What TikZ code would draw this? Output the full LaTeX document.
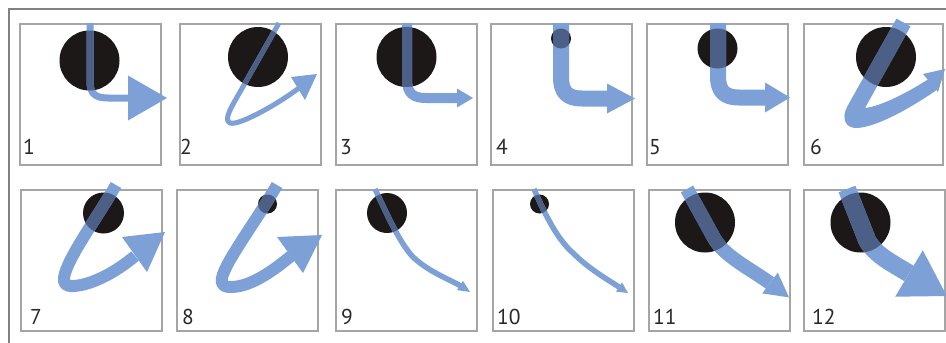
\documentclass[tikz,border=0pt]{standalone}
\usepackage{fontspec}
\setmainfont{PT Sans}
\definecolor{raylight}{RGB}{125,160,215}
\definecolor{raydark}{RGB}{75,95,135}
\definecolor{discblack}{RGB}{28,24,24}
\definecolor{boxgray}{RGB}{165,165,165}
\definecolor{framegray}{RGB}{130,130,130}
\definecolor{numgray}{RGB}{40,40,40}
\tikzset{
  box/.style={draw=boxgray, line width=1.3},
  disc/.style={fill=discblack},
  ray/.style={draw=raylight, line cap=butt, line join=round},
  rayhead/.style={fill=raylight},
  raydeep/.style={draw=raydark, line cap=butt, line join=round},
  num/.style={anchor=base west, inner sep=0pt, text=numgray,
    font=\fontsize{21.5}{21.5}\selectfont},
}
% #1 box origin, #2 disc centre, #3 disc radius, #4 stroke width,
% #5 stroke path, #6 arrowhead polygon
\newcommand{\rayshot}[6]{%
  \begin{scope}[shift={#1}]
    \draw[box] (0,0) rectangle (141,141);
    \fill[disc] #2 circle (#3);
    \draw[ray, line width=#4] #5;
    \fill[rayhead] #6;
    \begin{scope}
      \clip #2 circle (#3);
      \draw[raydeep, line width=#4] #5;
    \end{scope}
  \end{scope}}
\begin{document}
\begin{tikzpicture}[x=1pt, y=-1pt]
\useasboundingbox (0,0) rectangle (946,343);
\fill[white] (0,0) rectangle (946,343);
% outer frame corner
\draw[framegray, line width=1.3] (946,9) -- (9,9) -- (9,343);

% ---- top row ----
\rayshot{(20,24)}{(69.5,36.5)}{30}{7}
  {(70,-1) -- (70,58) .. controls (70,70) and (76,74) .. (88,74) -- (110,74)}
  {(108,51.5) -- (147,74) -- (108,96.5) -- cycle}
\rayshot{(180,24)}{(78,33)}{30}{5}
  {(99,-1) -- (60,68) .. controls (52,82) and (43,96) .. (50,99) .. controls (58,102) and (95,82) .. (119,64)}
  {(111,53) -- (137,50) -- (125,76) -- cycle}
\rayshot{(336,24)}{(70.5,33)}{30}{10}
  {(71,-1) -- (71,56) .. controls (71,70) and (78,74) .. (90,74) -- (123,74)}
  {(121,64.5) -- (137,74) -- (121,83.5) -- cycle}
\rayshot{(491,24)}{(70,14.5)}{10}{16}
  {(70,-1) -- (70,53) .. controls (70,68) and (76,74.5) .. (91,74.5) -- (118,74.5)}
  {(116,59.5) -- (144,74.5) -- (116,89.5) -- cycle}
\rayshot{(647,24)}{(70.5,24.5)}{20}{16}
  {(71,-1) -- (71,52) .. controls (71,67) and (77,73.5) .. (92,73.5) -- (120,73.5)}
  {(118,58.5) -- (143,73.5) -- (118,88.5) -- cycle}
% panel 6: tapering stroke drawn as an outline
\begin{scope}[shift={(804,24)}]
  \draw[box] (0,0) rectangle (139,141);
  \fill[disc] (82,33) circle (30);
  \def\taper{(92.5,-5.4) -- (43,83) .. controls (37,95) and (42,104) .. (52,104)
    .. controls (72,104) and (110,82) .. (134,65) -- (131,51)
    .. controls (105,68) and (78,82) .. (61,84) -- (106.5,2.4) -- cycle}
  \fill[raylight] \taper;
  \fill[rayhead] (119,50) -- (141,45) -- (134,68) -- cycle;
  \begin{scope}
    \clip (82,33) circle (30);
    \fill[raydark] \taper;
  \end{scope}
\end{scope}

% ---- bottom row ----
\rayshot{(21,190)}{(82.5,23)}{20.5}{12}
  {(95,-5) .. controls (76,28) and (45,70) .. (43,88) .. controls (42,97) and (50,97) .. (60,95) .. controls (75,92) and (95,82) .. (114,66)}
  {(101,47) -- (144,42) -- (126,82) -- cycle}
\rayshot{(177,190)}{(90.5,14)}{9.5}{12}
  {(100,-5) .. controls (80,30) and (48,72) .. (45,88) .. controls (43,98) and (52,98) .. (63,96) .. controls (80,92) and (97,80) .. (114,66)}
  {(100,47) -- (145,45) -- (126,83) -- cycle}
\rayshot{(336,190)}{(51,23)}{20}{5.5}
  {(39,-1) .. controls (50,22) and (62,50) .. (76,66) .. controls (90,80) and (110,88) .. (125,96)}
  {(121,100.1) -- (134,102) -- (127,90.9) -- cycle}
\rayshot{(493,190)}{(46.5,14)}{9.5}{5.5}
  {(41,-1) .. controls (52,25) and (65,50) .. (80,63) .. controls (95,78) and (112,88) .. (126,97)}
  {(123,101.6) -- (135,103) -- (129,92.4) -- cycle}
\rayshot{(649,190)}{(56,32.5)}{30}{14}
  {(38,-1) -- (65,48) .. controls (75,66) and (100,78) .. (121,93)}
  {(113.2,103.4) -- (140,107.4) -- (128.8,82.6) -- cycle}
\rayshot{(804,190)}{(56.5,32.5)}{30}{18}
  {(43,-1) -- (63,50) .. controls (71,65) and (88,73) .. (105,83.5)}
  {(91.2,106.7) -- (142.8,106) -- (118.8,60.3) -- cycle}

% ---- panel numbers ----
\node[num] (n1)  at (23,154)  {1};
\node[num] (n2)  at (180,154) {2};
\node[num] (n3)  at (340,154) {3};
\node[num] (n4)  at (496,154) {4};
\node[num] (n5)  at (649,154) {5};
\node[num] (n6)  at (810,154) {6};
\node[num] (n7)  at (30,324)  {7};
\node[num] (n8)  at (182,324) {8};
\node[num] (n9)  at (341,324) {9};
\node[num] (n10) at (497,324) {10};
\node[num] (n11) at (653,324) {11};
\node[num] (n12) at (812,324) {12};
\end{tikzpicture}
\end{document}
